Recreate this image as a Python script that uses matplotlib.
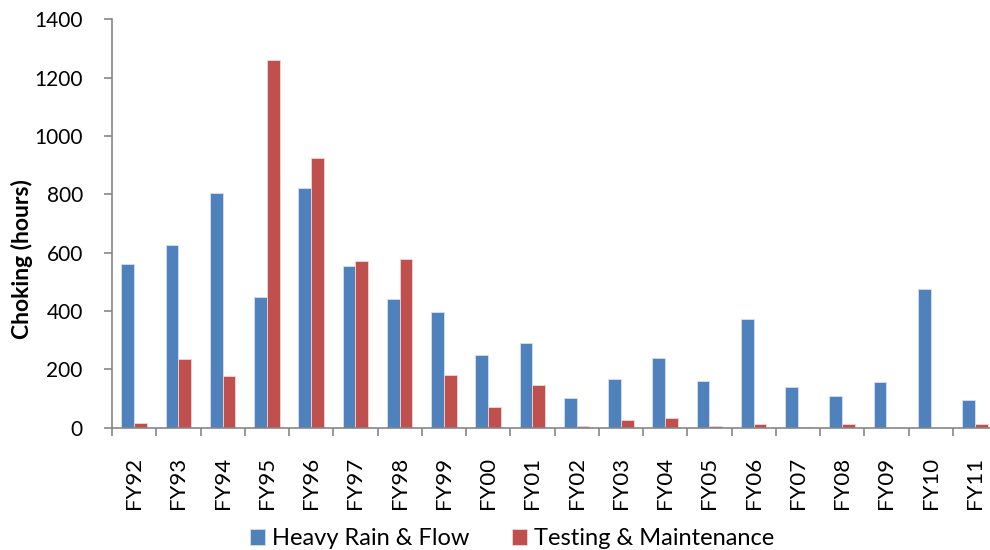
import matplotlib
matplotlib.use("Agg")
import matplotlib.pyplot as plt
import numpy as np

years = ['FY92', 'FY93', 'FY94', 'FY95', 'FY96', 'FY97', 'FY98', 'FY99', 'FY00', 'FY01',
         'FY02', 'FY03', 'FY04', 'FY05', 'FY06', 'FY07', 'FY08', 'FY09', 'FY10', 'FY11']
rain_flow = [560, 626, 806, 447, 823, 554, 441, 397, 249, 290,
             102, 168, 238, 159, 373, 138, 109, 155, 475, 94]
testing = [15, 234, 177, 1259, 923, 570, 578, 182, 71, 145,
           6, 25, 32, 6, 13, 4, 13, 0, 0, 13]

blue = '#4F81BD'
red = '#C0504D'
grey = '#868686'

plt.rcParams['font.family'] = ['Lato', 'DejaVu Sans']

fig = plt.figure(figsize=(9.9, 5.5), dpi=100)
ax = fig.add_axes([112 / 990, 1 - 427.7 / 550, 885 / 990, 408.4 / 550])

x = np.arange(len(years))
w = 1 / 3.5
ax.bar(x - w / 2, rain_flow, w, color=blue, edgecolor='#D6E0EE', linewidth=0.6,
       label='Heavy Rain & Flow', zorder=2)
ax.bar(x + w / 2, testing, w, color=red, edgecolor='#EED6D5', linewidth=0.6,
       label='Testing & Maintenance', zorder=2)

ax.set_xlim(-0.5, len(years) - 0.5)
ax.set_ylim(0, 1400)
ax.set_yticks(range(0, 1401, 200))
ax.set_xticks(x)
ax.set_xticklabels(years, rotation=90)
ax.set_xticks(np.arange(-0.5, len(years), 1), minor=True)

for side in ['top', 'right']:
    ax.spines[side].set_visible(False)
for side in ['left', 'bottom']:
    ax.spines[side].set_color(grey)
    ax.spines[side].set_linewidth(1.2)

ax.tick_params(axis='y', length=6, width=1.2, color=grey, labelsize=15, pad=15)
ax.tick_params(axis='x', which='major', length=0, labelsize=16, pad=21)
ax.tick_params(axis='x', which='minor', length=6, width=1.2, color=grey)

ax.set_ylabel('Choking (hours)', fontsize=16.5, fontweight='bold')
ax.yaxis.set_label_coords(-0.0893, 0.413)

ax.legend(loc='center', bbox_to_anchor=(0.452, -0.2725), ncol=2, frameon=False,
          fontsize=17, handlelength=0.65, handleheight=0.65, handletextpad=0.3,
          columnspacing=1.8, borderpad=0)

fig.savefig('out.png', dpi=100)
